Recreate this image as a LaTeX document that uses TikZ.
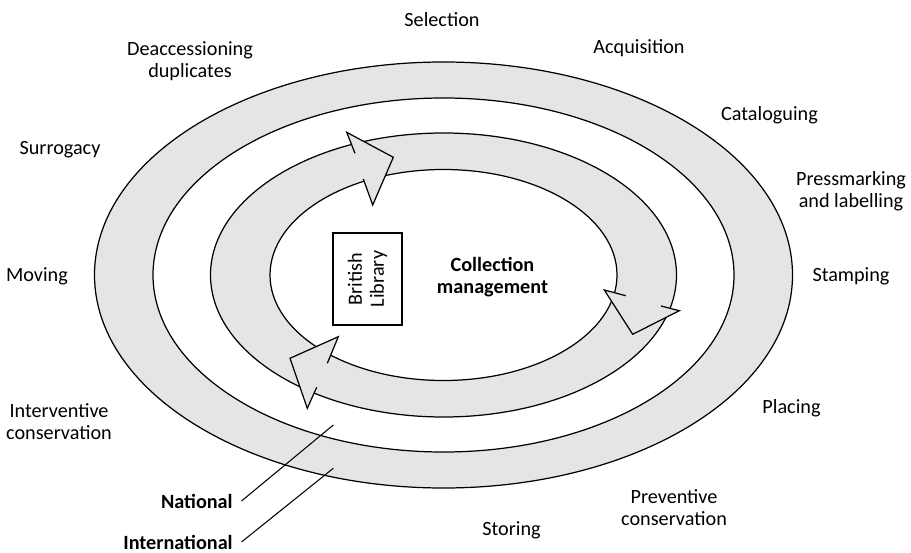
\documentclass[tikz,border=0pt]{standalone}
\usepackage{fontspec}
\setmainfont{Carlito}
\definecolor{ringgray}{gray}{0.9}
% head of one ring arrow: outer stub, outer corner, tip, inner corner, inner stub
\def\ringhead(#1)(#2)(#3)(#4)(#5){%
  \fill[ringgray] (#2) -- (#3) -- (#4) -- cycle;
  \draw[edge] (#1) -- (#2) -- (#3) -- (#4) -- (#5);}

\begin{document}
\begin{tikzpicture}[x=0.02cm, y=-0.02cm,
    edge/.style={line width=0.7pt, line join=miter},
    leader/.style={line width=0.6pt},
    stage/.style={font=\fontsize{11.5}{12.5}\selectfont, align=center, inner sep=0pt},
    tag/.style={font=\bfseries\fontsize{11.5}{12.5}\selectfont, inner xsep=0.17cm, inner ysep=0pt, anchor=east},
    hub/.style={font=\bfseries\fontsize{11.5}{12.5}\selectfont, align=center, inner sep=0pt},
    libbox/.style={draw, line width=0.7pt, rotate=90, align=center, inner sep=0pt,
      minimum width=1.84cm, minimum height=1.38cm, font=\fontsize{11.5}{12.5}\selectfont}]
    %%%%% START %%%%%
    \useasboundingbox (0,0) rectangle (911,553);

    % rings
    \coordinate (c) at (443.5,275);
    \fill[ringgray, even odd rule] (c) ellipse [x radius=349, y radius=213]
      (c) ellipse [x radius=290.5, y radius=177];
    \fill[ringgray, even odd rule] (c) ellipse [x radius=233, y radius=142]
      (c) ellipse [x radius=173.5, y radius=105.5];
    \foreach \rx/\ry in {349/213, 290.5/177, 233/142, 173.5/105.5}
      \draw[edge] (c) ellipse [x radius=\rx, y radius=\ry];

    % arrow heads on the inner ring
    \ringhead(355,153.3)(346.7,132.3)(393.3,157.3)(372.7,205)(363.3,179)
    \ringhead(661,306)(679.3,310.7)(632.7,334.3)(604.3,290)(625.7,295.7)
    \ringhead(316.7,387.3)(307.3,408.3)(290,358.3)(338.3,336.7)(327.3,363.3)

    % centre
    \node[libbox] (bl) at (367.5,279) {British\\Library};
    \node[hub] (colman) at (492.5,277) {Collection\\management};

    % stages round the cycle
    \node[stage] (selection) at (442,20) {Selection};
    \node[stage] (deacc) at (190,61) {Deaccessioning\\duplicates};
    \node[stage] (acquisition) at (639,48) {Acquisition};
    \node[stage] (surrogacy) at (60,150) {Surrogacy};
    \node[stage] (cataloguing) at (769.5,115) {Cataloguing};
    \node[stage] (pressmark) at (851,191.5) {Pressmarking\\and labelling};
    \node[stage] (moving) at (37,276) {Moving};
    \node[stage] (stamping) at (851,276) {Stamping};
    \node[stage] (interv) at (59,421.5) {Interventive\\conservation};
    \node[stage] (placing) at (791.5,408) {Placing};
    \node[stage] (prevent) at (674,507.5) {Preventive\\conservation};
    \node[stage] (storing) at (511.5,530) {Storing};

    % ring labels
    \node[tag] (national) at (241.5,501) {National};
    \node[tag] (international) at (241.5,542) {International};
    \coordinate (natend) at (333.3,425);
    \coordinate (intend) at (333.3,468.3);
    \draw[leader] (national.east) -- (natend);
    \draw[leader] (international.east) -- (intend);
    %%%%% END %%%%%
\end{tikzpicture}
\end{document}
